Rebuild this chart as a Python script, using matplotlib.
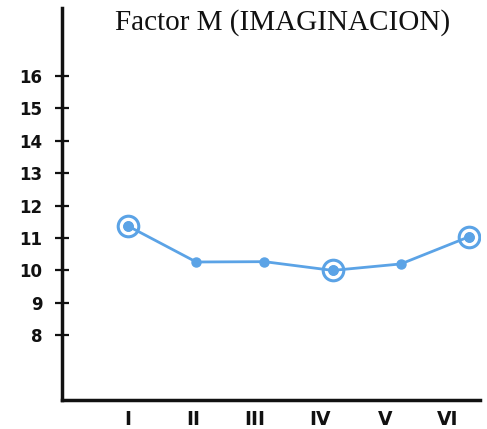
import numpy as np
import matplotlib.pyplot as plt

categories = ["I", "II", "III", "IV", "V", "VI"]
points_x = [1, 2, 3, 4, 5, 6]
label_x = [1, 1.95, 2.86, 3.82, 4.77, 5.69]
values = [11.37, 10.26, 10.27, 10.0, 10.2, 11.04]
ringed = [True, False, False, True, False, True]
y_ticks = [8, 9, 10, 11, 12, 13, 14, 15, 16]

blue = "#5ba3e6"

fig = plt.figure(figsize=(4.87, 4.29), dpi=100)
ax = fig.add_axes([62 / 487, 1 - 400 / 429, (480 - 62) / 487, (400 - 8) / 429])

ax.plot(points_x, values, color=blue, lw=2, marker="o", ms=6.5, mfc=blue, mec=blue, zorder=3)
rx = [x for x, r in zip(points_x, ringed) if r]
ry = [v for v, r in zip(values, ringed) if r]
ax.scatter(rx, ry, s=220, facecolors="white", edgecolors=blue, linewidths=2.2, zorder=2)
ax.scatter(rx, ry, s=45, color=blue, zorder=4)

ax.set_xlim(0.032, 6.16)
ax.set_ylim(6, 18.1)

for s in ["top", "right"]:
    ax.spines[s].set_visible(False)
for s in ["left", "bottom"]:
    ax.spines[s].set_linewidth(2.5)
    ax.spines[s].set_color("#111111")

ax.set_yticks(y_ticks)
ax.set_yticklabels([str(t) for t in y_ticks], fontsize=12, fontweight="bold", family="DejaVu Sans")
ax.tick_params(axis="y", direction="inout", length=10, width=1.6, pad=9, colors="#111111")

ax.set_xticks(label_x)
ax.set_xticklabels(categories, fontsize=13.5, fontweight="bold", family="DejaVu Sans")
ax.tick_params(axis="x", length=0, pad=7, colors="#111111")

fig.text(283 / 487, 1 - 30 / 429, "Factor M (IMAGINACION)", family="Liberation Serif",
         fontsize=21, ha="center", va="baseline", color="#111111")

fig.savefig("out.png", dpi=100)
